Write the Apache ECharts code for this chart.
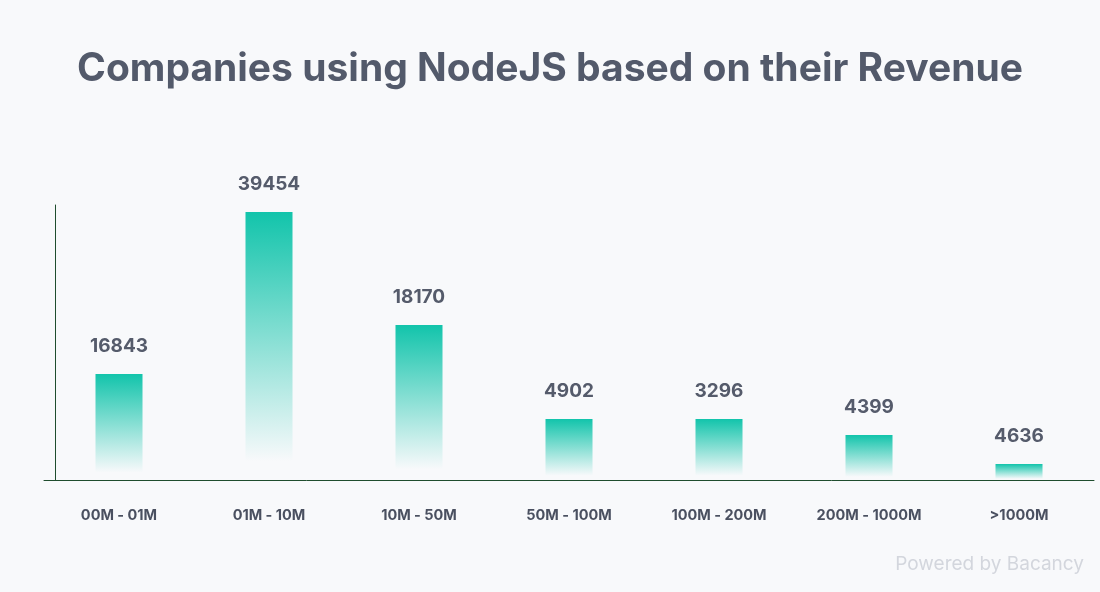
<!DOCTYPE html>
<html>
<head>
<meta charset="utf-8">
<title>Companies using NodeJS</title>
<script src="https://cdn.jsdelivr.net/npm/echarts@6/dist/echarts.min.js"></script>
<style>
  html, body { margin: 0; padding: 0; background: #f8f9fb; }
  #main { width: 1100px; height: 592px; }
</style>
</head>
<body>
<div id="main"></div>
<script>
    // revenue bands
    var categories = ['00M - 01M', '01M - 10M', '10M - 50M', '50M - 100M', '100M - 200M', '200M - 1000M', '>1000M'];
    // bar heights as drawn in the picture (the source does not scale bars to its labels)
    var barHeights = [106, 268, 155, 61, 61, 45, 16];
    // numbers printed above the bars
    var barLabels = ['16843', '39454', '18170', '4902', '3296', '4399', '4636'];

    var myChart = echarts.init(document.getElementById('main'));
    var option = {
        backgroundColor: '#f8f9fb',
        title: {
            text: 'Companies using NodeJS based on their Revenue',
            left: 'center',
            top: 45,
            textStyle: { fontFamily: 'Inter', fontSize: 39, fontWeight: 'bold', color: '#535a6b' }
        },
        graphic: [{
            type: 'text', right: 16, bottom: 18,
            style: { text: 'Powered by Bacancy', fontFamily: 'Inter', fontSize: 19, fill: '#d3d6dd' }
        }],
        grid: { left: 44, width: 1050, top: 205, bottom: 112 },
        xAxis: {
            type: 'category',
            data: categories,
            axisTick: { show: false },
            axisLine: { lineStyle: { color: '#1f4d2e', width: 1 } },
            axisLabel: { margin: 28, fontFamily: 'Inter', fontSize: 14.5, fontWeight: 'bold', color: '#4a5060' }
        },
        yAxis: {
            type: 'value',
            min: 0, max: 275,
            offset: -11,
            splitLine: { show: false },
            axisLabel: { show: false },
            axisLine: { show: true, lineStyle: { color: '#1f4d2e', width: 1 } }
        },
        series: [{
            type: 'bar',
            data: barHeights,
            barWidth: 47,
            itemStyle: {
                color: new echarts.graphic.LinearGradient(0, 0, 0, 1, [
                    { offset: 0, color: '#12c4ab' },
                    { offset: 0.93, color: 'rgba(18,196,171,0)' },
                    { offset: 1, color: 'rgba(18,196,171,0)' }
                ])
            },
            label: {
                show: true,
                position: 'top',
                distance: 18,
                fontFamily: 'Inter',
                fontSize: 19,
                fontWeight: 'bold',
                color: '#555b6b',
                formatter: function (p) { return barLabels[p.dataIndex]; }
            }
        }]
    };
    myChart.setOption(option);
</script>
</body>
</html>
